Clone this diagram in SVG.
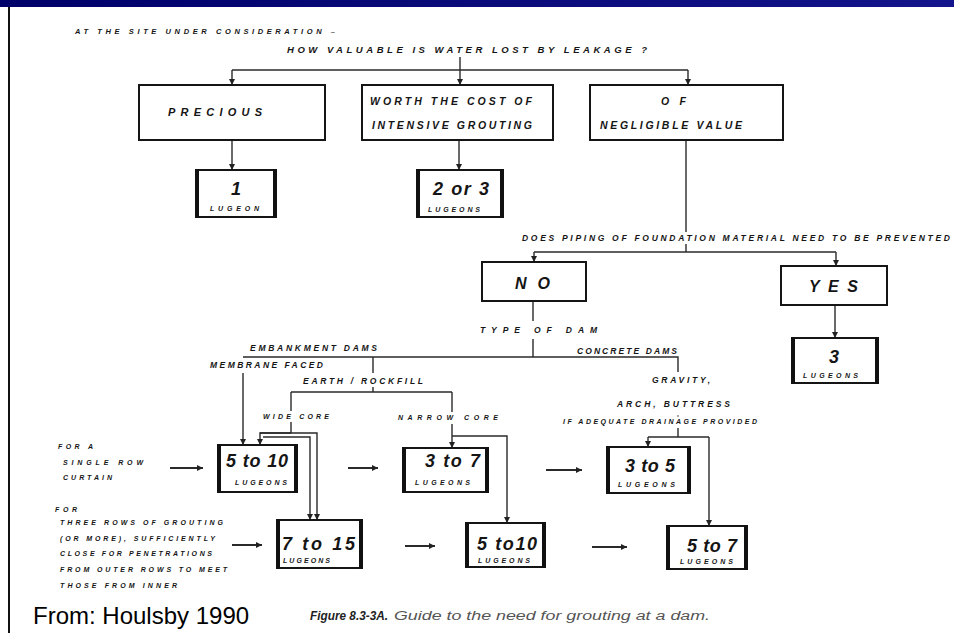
<svg xmlns="http://www.w3.org/2000/svg" width="954" height="633" viewBox="0 0 954 633">
<defs>
<linearGradient id="band" x1="0" y1="0" x2="1" y2="0">
<stop offset="0" stop-color="#00006a"/>
<stop offset="0.5" stop-color="#0a0a7a"/>
<stop offset="1" stop-color="#14148c"/>
</linearGradient>
<marker id="ar" markerUnits="userSpaceOnUse" markerWidth="6" markerHeight="7" refX="6" refY="3.5" orient="auto">
<path d="M0,0.5 L6,3.5 L0,6.5 z" fill="#222"/>
</marker>
<style>
.t{font-family:"Liberation Sans",Arial,sans-serif;font-style:italic;font-weight:bold;fill:#151515}
.s6{font-size:7px}.s7{font-size:7.5px}.s8{font-size:8.5px}.s9{font-size:9.5px}.s10{font-size:10.5px}.s11{font-size:11px}.s16{font-size:16px}
.big{font-size:18px;font-weight:bold}
.ln{stroke:#2a2a2a;stroke-width:1.4;fill:none}
.arr{stroke:#2a2a2a;stroke-width:1.4;fill:none;marker-end:url(#ar)}
.hz{stroke:#2a2a2a;stroke-width:2;fill:none;marker-end:url(#ar)}
.box{fill:#fff;stroke:#151515;stroke-width:2}
.thick{stroke:#111;stroke-width:4}
</style>
</defs>
<rect x="0" y="0" width="954" height="633" fill="#fff"/>
<rect x="0" y="0" width="954" height="7" fill="url(#band)"/>
<rect x="8" y="7" width="2" height="626" fill="#111"/>

<g id="connectors">
<path class="ln" d="M460,57 V70"/>
<path class="ln" d="M232,70 H688"/>
<path class="arr" d="M232,70 V85"/>
<path class="arr" d="M460,70 V85"/>
<path class="arr" d="M688,70 V85"/>
<path class="arr" d="M232,140 V170"/>
<path class="arr" d="M459,140 V170"/>
<path class="ln" d="M686,140 V232"/>
<path class="ln" d="M686,244 V252"/>
<path class="ln" d="M534,252 H836"/>
<path class="arr" d="M534,252 V262"/>
<path class="arr" d="M836,252 V266"/>
<path class="arr" d="M835,305 V338"/>
<path class="ln" d="M533,301 V321"/>
<path class="ln" d="M533,339 V357"/>
<path class="ln" d="M243,357 H678 V372"/>
<path class="arr" d="M243,373 V445"/>
<path class="ln" d="M373,357 V373"/>
<path class="ln" d="M373,387 V392"/>
<path class="ln" d="M291,392 H452"/>
<path class="ln" d="M291,392 V411"/>
<path class="ln" d="M291,422 V433"/>
<path class="arr" d="M291,433 H260 V445"/>
<path class="arr" d="M260,433 H317 V520"/>
<path class="arr" d="M263,437 H310 V520"/>
<path class="ln" d="M452,392 V412"/>
<path class="arr" d="M452,424 V448"/>
<path class="arr" d="M452,436 H507 V523"/>
<circle cx="678" cy="416" r="0.8" fill="#333"/>
<path class="ln" d="M678,428 V437"/>
<path class="ln" d="M648,437 H709"/>
<path class="arr" d="M648,437 V447"/>
<path class="arr" d="M709,437 V526"/>
<path class="hz" d="M170,468 H203"/>
<path class="hz" d="M348,468 H378"/>
<path class="hz" d="M546,470 H582"/>
<path class="hz" d="M232,545 H262"/>
<path class="hz" d="M405,546 H435"/>
<path class="hz" d="M592,547 H627"/>
</g>

<g id="labels">
<text class="t s7" x="75" y="34" textLength="260" lengthAdjust="spacing">AT THE SITE UNDER CONSIDERATION –</text>
<text class="t s9" x="287" y="53" textLength="360" lengthAdjust="spacing">HOW VALUABLE IS WATER LOST BY LEAKAGE ?</text>
<text class="t s8" x="522" y="241" textLength="428" lengthAdjust="spacing">DOES PIPING OF FOUNDATION MATERIAL NEED TO BE PREVENTED</text>
<text class="t s8" x="480" y="333" textLength="117" lengthAdjust="spacing">TYPE OF DAM</text>
<text class="t s8" x="250" y="351" textLength="127" lengthAdjust="spacing">EMBANKMENT DAMS</text>
<text class="t s8" x="577" y="354" textLength="100" lengthAdjust="spacing">CONCRETE DAMS</text>
<text class="t s8" x="210" y="368" textLength="113" lengthAdjust="spacing">MEMBRANE FACED</text>
<text class="t s8" x="303" y="384" textLength="120" lengthAdjust="spacing">EARTH / ROCKFILL</text>
<text class="t s8" x="652" y="383" textLength="58" lengthAdjust="spacing">GRAVITY,</text>
<text class="t s8" x="617" y="407" textLength="113" lengthAdjust="spacing">ARCH, BUTTRESS</text>
<text class="t s6" x="563" y="424" textLength="194" lengthAdjust="spacing">IF ADEQUATE DRAINAGE PROVIDED</text>
<text class="t s6" x="263" y="419" textLength="66" lengthAdjust="spacing">WIDE CORE</text>
<text class="t s6" x="398" y="420" textLength="100" lengthAdjust="spacing">NARROW CORE</text>
<text class="t s6" x="58" y="449" textLength="35" lengthAdjust="spacing">FOR A</text>
<text class="t s6" x="63" y="465" textLength="80" lengthAdjust="spacing">SINGLE ROW</text>
<text class="t s6" x="63" y="480" textLength="49" lengthAdjust="spacing">CURTAIN</text>
<text class="t s6" x="55" y="512" textLength="22" lengthAdjust="spacing">FOR</text>
<text class="t s6" x="60" y="525" textLength="163" lengthAdjust="spacing">THREE ROWS OF GROUTING</text>
<text class="t s6" x="60" y="541" textLength="155" lengthAdjust="spacing">(OR MORE), SUFFICIENTLY</text>
<text class="t s6" x="60" y="556" textLength="152" lengthAdjust="spacing">CLOSE FOR PENETRATIONS</text>
<text class="t s6" x="60" y="572" textLength="167" lengthAdjust="spacing">FROM OUTER ROWS TO MEET</text>
<text class="t s6" x="60" y="588" textLength="117" lengthAdjust="spacing">THOSE FROM INNER</text>
<text x="33" y="624" font-family="Liberation Sans, Arial, sans-serif" font-size="24" fill="#000">From: Houlsby 1990</text>
<text x="310" y="620" font-family="Liberation Sans, Arial, sans-serif" font-size="12" font-style="italic" font-weight="bold" fill="#222" textLength="78" lengthAdjust="spacingAndGlyphs">Figure 8.3-3A.</text>
<text x="394" y="620" font-family="Liberation Sans, Arial, sans-serif" font-size="12" font-style="italic" fill="#555" textLength="316" lengthAdjust="spacingAndGlyphs">Guide to the need for grouting at a dam.</text>
</g>

<g id="precious">
<rect class="box" x="139" y="85" width="186" height="55"/>
<text class="t s11" x="168" y="116" textLength="94" lengthAdjust="spacing">PRECIOUS</text>
</g>
<g id="worth">
<rect class="box" x="362" y="85" width="191" height="55"/>
<text class="t s10" x="370" y="105" textLength="162" lengthAdjust="spacing">WORTH THE COST OF</text>
<text class="t s10" x="372" y="129" textLength="160" lengthAdjust="spacing">INTENSIVE GROUTING</text>
</g>
<g id="negligible">
<rect class="box" x="590" y="85" width="193" height="55"/>
<text class="t s10" x="661" y="105" textLength="25" lengthAdjust="spacing">O F</text>
<text class="t s10" x="600" y="129" textLength="142" lengthAdjust="spacing">NEGLIGIBLE VALUE</text>
</g>
<g id="lug1">
<rect class="box" x="196" y="170" width="80" height="47"/>
<path class="thick" d="M197,169 V218 M275,169 V218"/>
<text class="t big" x="236" y="195" text-anchor="middle">1</text>
<text class="t s6" x="210" y="211" textLength="49" lengthAdjust="spacing">LUGEON</text>
</g>
<g id="lug23">
<rect class="box" x="417" y="170" width="86" height="47"/>
<path class="thick" d="M418,169 V218 M502,169 V218"/>
<text class="t big" x="433" y="195" textLength="56" lengthAdjust="spacing">2 or 3</text>
<text class="t s6" x="428" y="212" textLength="52" lengthAdjust="spacing">LUGEONS</text>
</g>
<g id="no">
<rect class="box" x="482" y="262" width="104" height="39"/>
<text class="t s16" x="515" y="289" textLength="35" lengthAdjust="spacing">N O</text>
</g>
<g id="yes">
<rect class="box" x="781" y="266" width="106" height="39"/>
<text class="t s16" x="809" y="292" textLength="49" lengthAdjust="spacing">Y E S</text>
</g>
<g id="lug3">
<rect class="box" x="792" y="338" width="86" height="45"/>
<path class="thick" d="M793,337 V384 M877,337 V384"/>
<text class="t big" x="834" y="363" text-anchor="middle">3</text>
<text class="t s6" x="803" y="378" textLength="55" lengthAdjust="spacing">LUGEONS</text>
</g>
<g id="lug5to10a">
<rect class="box" x="218" y="445" width="79" height="47"/>
<path class="thick" d="M219,444 V493 M296,444 V493"/>
<text class="t big" x="226" y="467" textLength="62" lengthAdjust="spacing">5 to 10</text>
<text class="t s6" x="235" y="485" textLength="52" lengthAdjust="spacing">LUGEONS</text>
</g>
<g id="lug3to7">
<rect class="box" x="403" y="448" width="85" height="44"/>
<path class="thick" d="M404,447 V493 M487,447 V493"/>
<text class="t big" x="425" y="467" textLength="55" lengthAdjust="spacing">3 to 7</text>
<text class="t s6" x="415" y="485" textLength="55" lengthAdjust="spacing">LUGEONS</text>
</g>
<g id="lug3to5">
<rect class="box" x="607" y="447" width="83" height="46"/>
<path class="thick" d="M608,446 V494 M689,446 V494"/>
<text class="t big" x="625" y="472" textLength="50" lengthAdjust="spacing">3 to 5</text>
<text class="t s6" x="618" y="487" textLength="57" lengthAdjust="spacing">LUGEONS</text>
</g>
<g id="lug7to15">
<rect class="box" x="277" y="520" width="85" height="48"/>
<path class="thick" d="M278,519 V569 M361,519 V569"/>
<text class="t big" x="282" y="550" textLength="73" lengthAdjust="spacing">7 to 15</text>
<text class="t s6" x="283" y="563" textLength="47" lengthAdjust="spacing">LUGEONS</text>
</g>
<g id="lug5to10b">
<rect class="box" x="466" y="523" width="79" height="44"/>
<path class="thick" d="M467,522 V568 M544,522 V568"/>
<text class="t big" x="477" y="550" textLength="60" lengthAdjust="spacing">5 to10</text>
<text class="t s6" x="478" y="563" textLength="52" lengthAdjust="spacing">LUGEONS</text>
</g>
<g id="lug5to7">
<rect class="box" x="667" y="526" width="80" height="43"/>
<path class="thick" d="M668,525 V570 M746,525 V570"/>
<text class="t big" x="687" y="552" textLength="50" lengthAdjust="spacing">5 to 7</text>
<text class="t s6" x="680" y="564" textLength="53" lengthAdjust="spacing">LUGEONS</text>
</g>
</svg>
